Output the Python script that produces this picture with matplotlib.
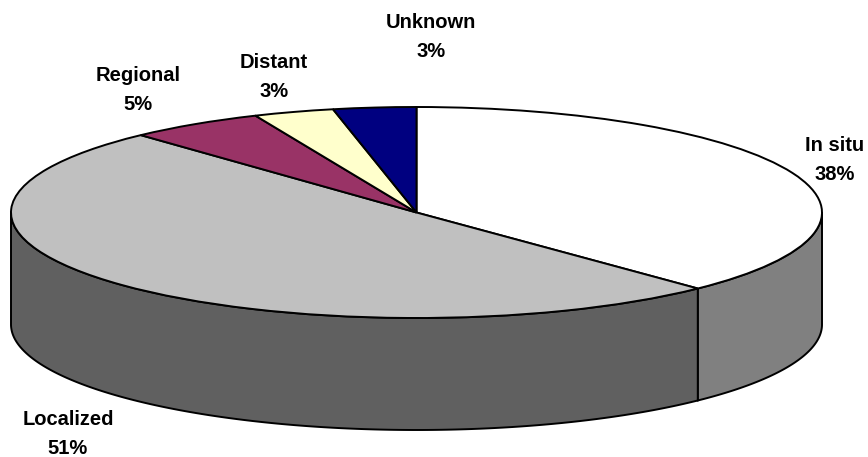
import numpy as np
import matplotlib
matplotlib.use("Agg")
import matplotlib.pyplot as plt

plt.rcParams["font.family"] = ["Liberation Sans", "DejaVu Sans"]

# data
labels = ["In situ", "Localized", "Regional", "Distant", "Unknown"]
pct_labels = [38, 51, 5, 3, 3]                # as printed on the chart
values = [37.8, 50.3, 5.4, 3.2, 3.3]          # slice sizes

# look
top_colors = ["#FFFFFF", "#C0C0C0", "#993366", "#FFFFCC", "#000080"]
wall_colors = ["#808080", "#606060", "#4C1933", "#808066", "#000040"]
label_px = [(835, 160), (68, 434), (138, 90), (274, 77), (431, 37)]

W, H = 868, 457
CX, CY = 416.5, 212.5    # pie centre in pixels
RX, RY = 405.5, 105.5    # ellipse radii
DEPTH = 112 / RY

fig = plt.figure(figsize=(W / 100, H / 100), dpi=100)
ax = fig.add_axes([0, 0, 1, 1])


def wall(start, end, color):
    # side of the pie between two clockwise angles, from 12 o'clock
    t = np.radians(np.linspace(start, end, 200))
    x, y = np.sin(t), np.cos(t)
    ax.fill(np.r_[x, x[::-1]], np.r_[y, y[::-1] - DEPTH],
            facecolor=color, edgecolor="black", linewidth=1.4, zorder=1)


# -----------------------------
# front walls, only the part facing the viewer
# -----------------------------
edges = 360 * np.r_[0, np.cumsum(values)] / sum(values)
for i in range(len(values)):
    start, end = max(edges[i], 90), min(edges[i + 1], 270)
    if start < end:
        wall(start, end, wall_colors[i])

# -----------------------------
# top face
# -----------------------------
ax.pie(values, colors=top_colors, startangle=90, counterclock=False, radius=1,
       wedgeprops={"edgecolor": "black", "linewidth": 1.4, "zorder": 2})

ax.set_aspect("auto")
ax.set_xlim(-CX / RX, (W - CX) / RX)
ax.set_ylim(-(H - CY) / RY, CY / RY)
ax.axis("off")

# -----------------------------
# labels
# -----------------------------
for name, val, (px, py) in zip(labels, pct_labels, label_px):
    fig.text(px / W, 1 - py / H, f"{name}\n{val}%", ha="center", va="center",
             fontsize=14.5, fontweight="bold", linespacing=1.65, color="black")

fig.savefig("out.png", dpi=100)
